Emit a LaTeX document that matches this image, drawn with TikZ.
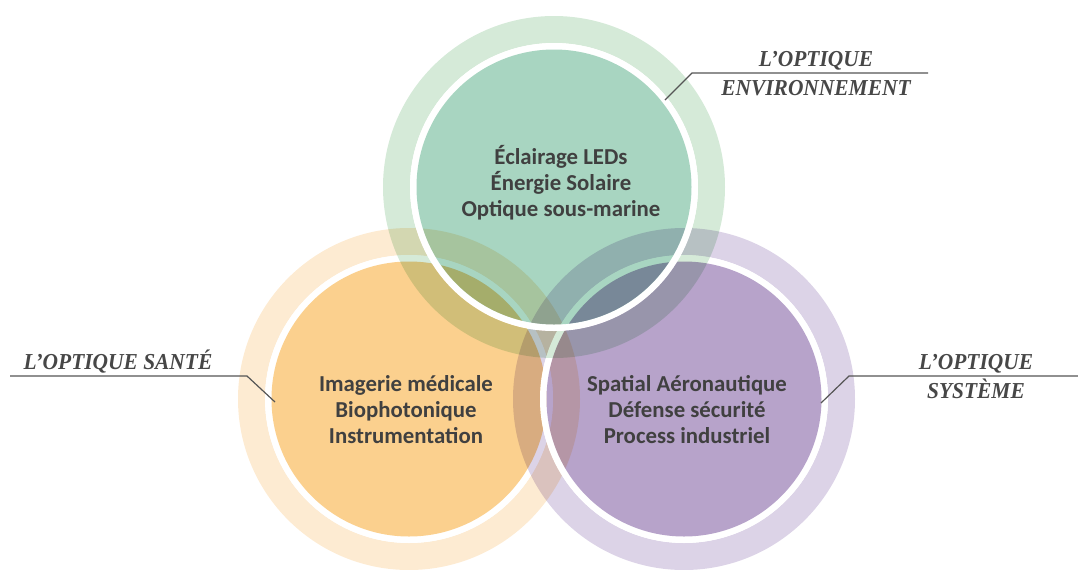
\documentclass[tikz,border=0pt]{standalone}
\usepackage{fontspec}
\setmainfont{Carlito}
\newfontfamily\etiqfont{Liberation Serif}
\definecolor{vertclair}{HTML}{D5EAD8}
\definecolor{vertfonce}{HTML}{A8D5C1}
\definecolor{orangeclair}{HTML}{FDEBD2}
\definecolor{orangefonce}{HTML}{FBD08E}
\definecolor{violetclair}{HTML}{DCD3E7}
\definecolor{violetfonce}{HTML}{B7A3CA}
\definecolor{textegris}{HTML}{404040}
\definecolor{etiqgris}{HTML}{474747}
\definecolor{traitgris}{HTML}{555555}
\begin{document}
\begin{tikzpicture}[x=0.5pt,y=-0.5pt,
    anneau/.style={fill=#1,even odd rule,blend mode=multiply},
    bord/.style={fill=white,even odd rule},
    disque/.style={fill=#1,blend mode=multiply},
    texte/.style={align=center,text=textegris,font=\bfseries\fontsize{11.4}{13}\selectfont},
    etiq/.style={align=center,text=etiqgris,xscale=0.94,
        font=\etiqfont\bfseries\itshape\fontsize{11.4}{14.5}\selectfont},
    trait/.style={draw=traitgris,line width=0.6pt}]
  \useasboundingbox (0,0) rectangle (1078,569);
  % centres des trois cercles
  \coordinate (csante) at (409,399);
  \coordinate (csysteme) at (684,399);
  \coordinate (cenv) at (554,187);
  % sante
  \fill[anneau=orangeclair] (csante) circle[radius=171] circle[radius=144];
  \fill[bord] (csante) circle[radius=144] circle[radius=137.5];
  \fill[disque=orangefonce] (csante) circle[radius=137.5];
  % systeme
  \fill[anneau=violetclair] (csysteme) circle[radius=171] circle[radius=144];
  \fill[bord] (csysteme) circle[radius=144] circle[radius=137.5];
  \fill[disque=violetfonce] (csysteme) circle[radius=137.5];
  % environnement
  \fill[anneau=vertclair] (cenv) circle[radius=171] circle[radius=144];
  \fill[bord] (cenv) circle[radius=144] circle[radius=137.5];
  \fill[disque=vertfonce] (cenv) circle[radius=137.5];
  % textes
  \node[texte] (tenv) at (561,183) {Éclairage LEDs\\Énergie Solaire\\Optique sous-marine};
  \node[texte] (tsante) at (406,410) {Imagerie médicale\\Biophotonique\\Instrumentation};
  \node[texte] (tsysteme) at (687,410) {Spatial Aéronautique\\Défense sécurité\\Process industriel};
  % etiquettes
  \node[etiq] (eenv) at (816,73.5) {L’OPTIQUE\\ENVIRONNEMENT};
  \node[etiq] (esante) at (118,362) {L’OPTIQUE SANTÉ};
  \node[etiq] (esysteme) at (976,376.5) {L’OPTIQUE\\SYSTÈME};
  \coordinate (e1) at (665,100); \coordinate (e2) at (692,73); \coordinate (e3) at (928,73);
  \coordinate (s1) at (275,402); \coordinate (s2) at (247,376); \coordinate (s3) at (10,376);
  \coordinate (y1) at (821,403); \coordinate (y2) at (849,376); \coordinate (y3) at (1078,376);
  \draw[trait] (e1) -- (e2) -- (e3);
  \draw[trait] (s1) -- (s2) -- (s3);
  \draw[trait] (y1) -- (y2) -- (y3);
\end{tikzpicture}
\end{document}
